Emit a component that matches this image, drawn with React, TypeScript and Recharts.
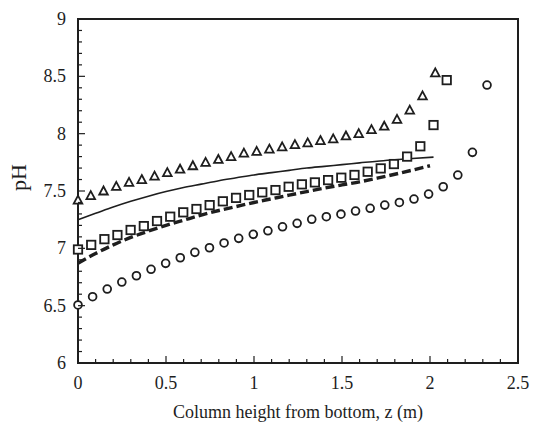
import {
  ComposedChart, XAxis, YAxis, Line, Scatter, ReferenceArea,
} from "recharts";

// ─── Data ─────────────────────────────────────────────────────────────────────
const triZ = [0, 0.0725, 0.145, 0.2175, 0.29, 0.3625, 0.435, 0.5075, 0.58, 0.6525, 0.725, 0.7975, 0.87, 0.9425, 1.015, 1.0875, 1.16, 1.2325, 1.305, 1.3775, 1.45, 1.5225, 1.595, 1.6675, 1.74, 1.8125, 1.885, 1.9575, 2.03];
const triPH = [7.42, 7.46, 7.5, 7.54, 7.575, 7.6, 7.63, 7.66, 7.69, 7.72, 7.75, 7.775, 7.8, 7.83, 7.845, 7.865, 7.885, 7.905, 7.92, 7.94, 7.955, 7.98, 8.0, 8.035, 8.065, 8.125, 8.205, 8.33, 8.53];

const sqZ = [0, 0.075, 0.15, 0.224, 0.299, 0.374, 0.449, 0.524, 0.598, 0.673, 0.748, 0.823, 0.898, 0.973, 1.047, 1.122, 1.197, 1.272, 1.346, 1.421, 1.496, 1.571, 1.646, 1.72, 1.795, 1.87, 1.945, 2.02, 2.095];
const sqPH = [6.99, 7.03, 7.08, 7.116, 7.16, 7.194, 7.238, 7.276, 7.314, 7.343, 7.377, 7.41, 7.44, 7.465, 7.488, 7.508, 7.537, 7.558, 7.575, 7.595, 7.616, 7.64, 7.668, 7.697, 7.735, 7.8, 7.89, 8.075, 8.467];

const circZ = [0, 0.083, 0.166, 0.249, 0.332, 0.415, 0.498, 0.581, 0.664, 0.747, 0.83, 0.913, 0.996, 1.079, 1.162, 1.245, 1.328, 1.411, 1.494, 1.577, 1.66, 1.743, 1.826, 1.909, 1.992, 2.075, 2.158, 2.241, 2.324];
const circPH = [6.506, 6.578, 6.645, 6.706, 6.761, 6.817, 6.869, 6.918, 6.965, 7.005, 7.047, 7.087, 7.122, 7.153, 7.188, 7.218, 7.253, 7.276, 7.298, 7.325, 7.349, 7.377, 7.4, 7.43, 7.473, 7.537, 7.639, 7.837, 8.424];

const solidZ = [0, 0.1, 0.2, 0.3, 0.4, 0.5, 0.6, 0.7, 0.8, 0.9, 1.0, 1.1, 1.2, 1.3, 1.4, 1.5, 1.6, 1.7, 1.8, 1.9, 2.02];
const solidPH = [7.25, 7.305, 7.36, 7.41, 7.455, 7.495, 7.53, 7.56, 7.59, 7.615, 7.64, 7.66, 7.68, 7.7, 7.715, 7.73, 7.745, 7.76, 7.772, 7.783, 7.795];

const dashZ = [0, 0.1, 0.2, 0.3, 0.4, 0.5, 0.6, 0.7, 0.8, 0.9, 1.0, 1.1, 1.2, 1.3, 1.4, 1.5, 1.6, 1.7, 1.8, 1.9, 2.0];
const dashPH = [6.87, 6.955, 7.03, 7.095, 7.15, 7.2, 7.245, 7.29, 7.33, 7.365, 7.4, 7.432, 7.464, 7.495, 7.525, 7.553, 7.58, 7.612, 7.646, 7.682, 7.72];

const xTicks = [0, 0.1, 0.2, 0.3, 0.4, 0.5, 0.6, 0.7, 0.8, 0.9, 1, 1.1, 1.2, 1.3, 1.4, 1.5, 1.6, 1.7, 1.8, 1.9, 2, 2.1, 2.2, 2.3, 2.4, 2.5];
const yTicks = [6, 6.1, 6.2, 6.3, 6.4, 6.5, 6.6, 6.7, 6.8, 6.9, 7, 7.1, 7.2, 7.3, 7.4, 7.5, 7.6, 7.7, 7.8, 7.9, 8, 8.1, 8.2, 8.3, 8.4, 8.5, 8.6, 8.7, 8.8, 8.9, 9];

const pts = (zs: number[], ph: number[]) => zs.map((z, i) => ({ z, ph: ph[i] }));

const INK = "#1e1e1e";
const FONT = "'Liberation Serif', 'Times New Roman', serif";

const isMajor = (v: number) => Math.abs(v * 2 - Math.round(v * 2)) < 1e-6;

// ─── Ticks (inside, with minor ticks every 0.1) ───────────────────────────────
const XTick = ({ x, y, payload }: any) => {
  const v = payload.value as number;
  const major = isMajor(v);
  return (
    <g>
      <line x1={x} x2={x} y1={y} y2={y - (major ? 7 : 4)} stroke={INK} strokeWidth={1.2} />
      {major && (
        <text x={x} y={y + 26} textAnchor="middle" fontFamily={FONT} fontSize={18} fill={INK}>
          {String(v)}
        </text>
      )}
    </g>
  );
};

const YTick = ({ x, y, payload }: any) => {
  const v = payload.value as number;
  const major = isMajor(v);
  return (
    <g>
      <line x1={x} x2={x + (major ? 7 : 4)} y1={y} y2={y} stroke={INK} strokeWidth={1.2} />
      {major && (
        <text x={x - 12} y={y + 6} textAnchor="end" fontFamily={FONT} fontSize={18} fill={INK}>
          {String(v)}
        </text>
      )}
    </g>
  );
};

// ─── Markers ──────────────────────────────────────────────────────────────────
const Tri = ({ cx, cy }: any) => (
  <path
    d={`M${cx},${cy - 4.5} L${cx + 4.3},${cy + 3.5} L${cx - 4.3},${cy + 3.5} Z`}
    fill="#fff" stroke={INK} strokeWidth={1.8} strokeLinejoin="miter"
  />
);
const Sq = ({ cx, cy }: any) => (
  <rect x={cx - 4.2} y={cy - 4.2} width={8.4} height={8.4} fill="#fff" stroke={INK} strokeWidth={1.8} />
);
const Circ = ({ cx, cy }: any) => (
  <circle cx={cx} cy={cy} r={3.9} fill="#fff" stroke={INK} strokeWidth={1.8} />
);

export default function App() {
  return (
    <div style={{ position: "absolute", left: 0, top: 0, width: 533, height: 422, background: "#fff" }}>
      <ComposedChart width={533} height={422} margin={{ top: 19, right: 15, bottom: 0, left: 0 }}>
        <XAxis
          dataKey="z" type="number" domain={[0, 2.5]} ticks={xTicks} interval={0}
          height={59} tickSize={0} tickMargin={0} tickLine={false} axisLine={false}
          tick={<XTick />}
          label={{ value: "Column height from bottom, z (m)", position: "insideBottom", offset: 4, fontFamily: FONT, fontSize: 18, fill: INK }}
        />
        <YAxis
          dataKey="ph" type="number" domain={[6, 9]} ticks={yTicks} interval={0}
          width={78} tickSize={0} tickMargin={0} tickLine={false} axisLine={false}
          tick={<YTick />}
          label={{ value: "pH", angle: -90, position: "insideLeft", offset: 18, fontFamily: FONT, fontSize: 22, fill: INK }}
        />
        <ReferenceArea x1={0} x2={2.5} y1={6} y2={9} fill="none" stroke={INK} strokeWidth={2} />
        <Line data={pts(solidZ, solidPH)} dataKey="ph" type="monotone" dot={false} stroke={INK} strokeWidth={1.6} isAnimationActive={false} />
        <Line data={pts(dashZ, dashPH)} dataKey="ph" type="monotone" dot={false} stroke={INK} strokeWidth={3.4} strokeDasharray="9 4" isAnimationActive={false} />
        <Scatter data={pts(triZ, triPH)} shape={<Tri />} isAnimationActive={false} />
        <Scatter data={pts(sqZ, sqPH)} shape={<Sq />} isAnimationActive={false} />
        <Scatter data={pts(circZ, circPH)} shape={<Circ />} isAnimationActive={false} />
      </ComposedChart>
    </div>
  );
}
